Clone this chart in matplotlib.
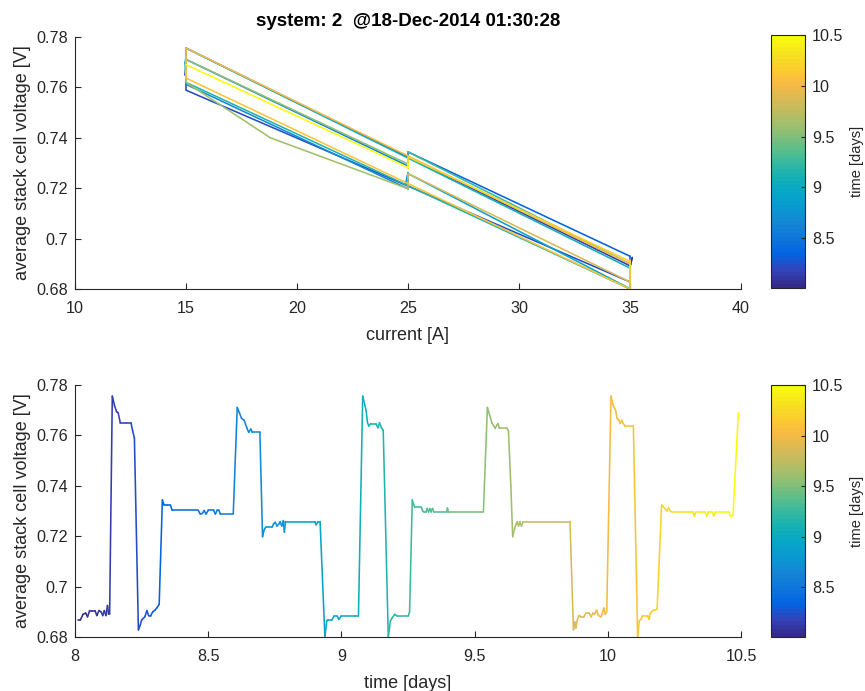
import numpy as np
import matplotlib
matplotlib.use("Agg")
import matplotlib.pyplot as plt
from matplotlib.collections import LineCollection
from matplotlib.colors import LinearSegmentedColormap, Normalize

plt.rcParams['font.family'] = ['Liberation Sans', 'DejaVu Sans']

# ---------------- data ----------------
time_days = [
    8.010, 8.020, 8.030, 8.040, 8.047, 8.055, 8.065, 8.075, 8.082, 8.090, 8.098, 8.104, 8.110, 8.116, 8.122, 8.126, 8.130,
    8.140, 8.148, 8.156, 8.162, 8.170, 8.190, 8.210, 8.216, 8.223,
    8.238, 8.244, 8.250, 8.262, 8.270, 8.276, 8.284, 8.292, 8.300, 8.307, 8.316,
    8.328, 8.334, 8.345, 8.358, 8.365, 8.463, 8.470, 8.478, 8.485, 8.492, 8.500, 8.520, 8.527, 8.533, 8.540, 8.546, 8.594,
    8.609, 8.617, 8.625, 8.635, 8.645, 8.652, 8.660, 8.666, 8.694,
    8.704, 8.710, 8.716, 8.740, 8.746, 8.752, 8.758, 8.765, 8.770, 8.776, 8.782, 8.786, 8.790, 8.900, 8.905, 8.912, 8.920,
    8.938, 8.945, 8.950, 8.965, 8.972, 8.985, 8.990, 9.000, 9.050, 9.064,
    9.080, 9.088, 9.093, 9.098, 9.103, 9.110, 9.130, 9.137, 9.143, 9.150, 9.157,
    9.176, 9.184, 9.190, 9.200, 9.210, 9.251, 9.256,
    9.266, 9.270, 9.275, 9.300, 9.305, 9.310, 9.318, 9.322, 9.327, 9.332, 9.337, 9.342, 9.347, 9.395, 9.398, 9.402, 9.533,
    9.548, 9.565, 9.577, 9.583, 9.588, 9.593, 9.620, 9.627,
    9.636, 9.643, 9.650, 9.655, 9.660, 9.665, 9.670, 9.676, 9.682, 9.858,
    9.871, 9.876, 9.880, 9.886, 9.892, 9.900, 9.910, 9.918, 9.930, 9.938, 9.944, 9.950, 9.958, 9.965, 9.975, 9.985, 9.990, 9.996,
    10.012, 10.020, 10.030, 10.035, 10.042, 10.047, 10.052, 10.058, 10.065, 10.096,
    10.112, 10.118, 10.124, 10.130, 10.150, 10.155, 10.160, 10.170, 10.185,
    10.202, 10.206, 10.210, 10.222, 10.228, 10.234, 10.240, 10.320, 10.325, 10.330, 10.365, 10.372, 10.378, 10.392, 10.398,
    10.404, 10.455, 10.460, 10.470, 10.490,
]
voltage = [
    0.6867, 0.6867, 0.6890, 0.6895, 0.6880, 0.6905, 0.6905, 0.6905, 0.6885, 0.6905, 0.6900, 0.6885, 0.6905, 0.6885, 0.6925, 0.6890, 0.6892,
    0.7756, 0.7720, 0.7694, 0.7690, 0.7650, 0.7650, 0.7650, 0.7620, 0.7589,
    0.6828, 0.6845, 0.6867, 0.6880, 0.6905, 0.6885, 0.6885, 0.6900, 0.6906, 0.6915, 0.6930,
    0.7344, 0.7324, 0.7324, 0.7324, 0.7302, 0.7302, 0.7288, 0.7290, 0.7302, 0.7288, 0.7302, 0.7302, 0.7288, 0.7302, 0.7302, 0.7288, 0.7288,
    0.7711, 0.7690, 0.7668, 0.7660, 0.7630, 0.7612, 0.7625, 0.7612, 0.7612,
    0.7198, 0.7225, 0.7236, 0.7236, 0.7250, 0.7255, 0.7240, 0.7248, 0.7258, 0.7240, 0.7262, 0.7216, 0.7258, 0.7258, 0.7245, 0.7258, 0.7258,
    0.6801, 0.6864, 0.6868, 0.6868, 0.6883, 0.6883, 0.6870, 0.6883, 0.6883, 0.6883,
    0.7756, 0.7720, 0.7697, 0.7650, 0.7637, 0.7647, 0.7647, 0.7630, 0.7650, 0.7630, 0.7620,
    0.6800, 0.6864, 0.6875, 0.6890, 0.6883, 0.6883, 0.6900,
    0.7344, 0.7330, 0.7315, 0.7315, 0.7300, 0.7296, 0.7296, 0.7310, 0.7296, 0.7310, 0.7296, 0.7310, 0.7296, 0.7296, 0.7312, 0.7296, 0.7296,
    0.7711, 0.7650, 0.7628, 0.7640, 0.7647, 0.7628, 0.7628, 0.7620,
    0.7400, 0.7198, 0.7230, 0.7245, 0.7258, 0.7240, 0.7258, 0.7240, 0.7258, 0.7258,
    0.6828, 0.6860, 0.6835, 0.6870, 0.6885, 0.6880, 0.6880, 0.6895, 0.6895, 0.6880, 0.6895, 0.6890, 0.6907, 0.6885, 0.6880, 0.6915, 0.6890, 0.6900,
    0.7756, 0.7720, 0.7697, 0.7667, 0.7660, 0.7647, 0.7660, 0.7647, 0.7637, 0.7637,
    0.6800, 0.6864, 0.6870, 0.6883, 0.6883, 0.6870, 0.6895, 0.6906, 0.6910,
    0.7324, 0.7320, 0.7315, 0.7300, 0.7312, 0.7300, 0.7296, 0.7296, 0.7280, 0.7296, 0.7296, 0.7280, 0.7296, 0.7296, 0.7280,
    0.7296, 0.7296, 0.7280, 0.7282, 0.7690,
]
current = [
    35.0, 35.0, 35.0, 35.0, 35.0, 35.0, 35.0, 35.0, 35.0, 35.0, 35.0, 35.0, 35.0, 35.0, 35.1, 35.0, 35.0,
    15.0, 15.0, 15.0, 15.0, 14.95, 15.0, 15.0, 15.0, 15.0,
    35.0, 35.0, 35.0, 35.0, 35.0, 35.0, 35.0, 35.0, 35.0, 35.0, 35.0,
    25.0, 25.0, 25.0, 25.0, 25.0, 25.0, 25.0, 25.0, 25.0, 25.0, 25.0, 25.0, 25.0, 25.0, 25.0, 25.0, 25.0,
    15.0, 15.0, 15.0, 15.0, 15.0, 15.0, 15.0, 15.0, 15.0,
    25.0, 25.0, 25.0, 25.0, 25.0, 25.0, 25.0, 25.0, 25.0, 25.0, 25.0, 24.9, 25.0, 25.0, 25.0, 25.0, 25.0,
    35.0, 35.0, 35.0, 35.0, 35.0, 35.0, 35.0, 35.0, 35.0, 35.0,
    15.0, 15.0, 14.95, 15.0, 15.0, 15.0, 15.0, 15.0, 15.0, 15.0, 15.0,
    35.0, 35.0, 35.0, 35.0, 35.0, 35.0, 35.0,
    25.0, 25.0, 25.0, 25.0, 25.0, 25.0, 25.0, 25.0, 25.0, 25.0, 25.0, 25.0, 25.0, 25.0, 25.0, 25.0, 25.0,
    15.0, 15.0, 15.0, 15.0, 15.0, 15.0, 15.0, 15.0,
    18.8, 25.0, 25.0, 25.0, 25.0, 25.0, 25.0, 25.0, 25.0, 25.0,
    35.0, 35.0, 35.0, 35.0, 35.0, 35.0, 35.0, 35.0, 35.0, 35.0, 35.0, 35.0, 35.0, 35.0, 35.0, 35.0, 35.0, 35.0,
    15.0, 15.0, 15.0, 15.0, 15.0, 15.0, 15.0, 15.0, 15.0, 15.0,
    35.0, 35.0, 35.0, 35.0, 35.0, 35.0, 35.0, 35.0, 35.0,
    25.0, 25.0, 25.0, 25.0, 25.0, 25.0, 25.0, 25.0, 25.0, 25.0, 25.0, 25.0, 25.0, 25.0, 25.0,
    25.0, 25.0, 25.0, 25.0, 15.0,
]
title_text = "system: 2  @18-Dec-2014 01:30:28"
time_limits = (8.01, 10.5)

# parula-like colormap
parula_anchors = [
    (0.2081, 0.1663, 0.5292), (0.1959, 0.2645, 0.7279), (0.0117, 0.3875, 0.8820),
    (0.0498, 0.4586, 0.8641), (0.0793, 0.5200, 0.8312), (0.0343, 0.5966, 0.8199),
    (0.0228, 0.6535, 0.7768), (0.0843, 0.6928, 0.7062), (0.2178, 0.7250, 0.6193),
    (0.3953, 0.7459, 0.5244), (0.5709, 0.7485, 0.4494), (0.7184, 0.7411, 0.3905),
    (0.8507, 0.7299, 0.3360), (0.9739, 0.7314, 0.2666), (0.9880, 0.8066, 0.1794),
    (0.9588, 0.8949, 0.1132), (0.9763, 0.9831, 0.0538),
]
parula = LinearSegmentedColormap.from_list("parula", parula_anchors, N=64)

t = np.array(time_days)
v = np.array(voltage)
c = np.array(current)
norm = Normalize(vmin=time_limits[0], vmax=time_limits[1])

fig = plt.figure(figsize=(8.65, 6.91), dpi=100)
W, H = 865, 691

def ax_rect(l, tp, r, b):
    return [l / W, 1 - b / H, (r - l) / W, (b - tp) / H]

spine_col = (0.15, 0.15, 0.15)
fs = 11.6
lfs = 13

def style(ax):
    for s in ['top', 'right']:
        ax.spines[s].set_visible(False)
    for s in ['left', 'bottom']:
        ax.spines[s].set_color(spine_col)
        ax.spines[s].set_linewidth(0.8)
    ax.tick_params(direction='in', length=4, width=0.8, colors=spine_col,
                   labelsize=fs, labelcolor=spine_col)
    ax.tick_params(axis='x', pad=8.5)
    ax.tick_params(axis='y', pad=5)

def colored_line(ax, x, y, tt):
    pts = np.column_stack([x, y]).reshape(-1, 1, 2)
    segs = np.concatenate([pts[:-1], pts[1:]], axis=1)
    lc = LineCollection(segs, cmap=parula, norm=norm, linewidths=1.15)
    lc.set_array(0.5 * (tt[:-1] + tt[1:]))
    lc.set_capstyle('round')
    lc.set_joinstyle('round')
    ax.add_collection(lc)
    return lc

def fmt(val, pos=None):
    return ('%g' % val)

yfmt = plt.FuncFormatter(lambda x, p: '%g' % round(x, 2))

# ---- top axes ----
ax1 = fig.add_axes(ax_rect(75, 37, 741, 289))
colored_line(ax1, c, v, t)
ax1.set_xlim(10, 40)
ax1.set_ylim(0.68, 0.78)
ax1.set_xticks(np.arange(10, 41, 5))
ax1.set_yticks(np.arange(0.68, 0.781, 0.02))
ax1.xaxis.set_major_formatter(plt.FuncFormatter(fmt))
ax1.yaxis.set_major_formatter(yfmt)
style(ax1)
ax1.set_xlabel("current [A]", fontsize=lfs, color=spine_col, labelpad=8)
ax1.set_ylabel("average stack cell voltage [V]", fontsize=lfs, color=spine_col, labelpad=4)
ax1.set_title(title_text, fontsize=13.5, fontweight='bold', color='black', pad=8)

cax1 = fig.add_axes(ax_rect(771, 35, 805, 288))
# ---- bottom axes ----
ax2 = fig.add_axes(ax_rect(75, 385, 741, 637))
colored_line(ax2, t, v, t)
ax2.set_xlim(8, 10.5)
ax2.set_ylim(0.68, 0.78)
ax2.set_xticks(np.arange(8, 10.51, 0.5))
ax2.set_yticks(np.arange(0.68, 0.781, 0.02))
ax2.xaxis.set_major_formatter(plt.FuncFormatter(fmt))
ax2.yaxis.set_major_formatter(yfmt)
style(ax2)
ax2.set_xlabel("time [days]", fontsize=lfs, color=spine_col, labelpad=8)
ax2.set_ylabel("average stack cell voltage [V]", fontsize=lfs, color=spine_col, labelpad=4)

cax2 = fig.add_axes(ax_rect(771, 385, 805, 637))

sm = matplotlib.cm.ScalarMappable(norm=norm, cmap=parula)
for cax in (cax1, cax2):
    cb = fig.colorbar(sm, cax=cax)
    cb.set_ticks([8.5, 9, 9.5, 10, 10.5])
    cb.ax.yaxis.set_major_formatter(plt.FuncFormatter(fmt))
    cb.outline.set_edgecolor(spine_col)
    cb.outline.set_linewidth(0.8)
    cb.ax.tick_params(direction='in', length=3, width=0.8, colors=spine_col,
                      labelsize=fs, labelcolor=spine_col, pad=5)
    cb.set_label("time [days]", fontsize=10.5, color=spine_col, labelpad=5)

fig.savefig("out.png", dpi=100, facecolor='white')
